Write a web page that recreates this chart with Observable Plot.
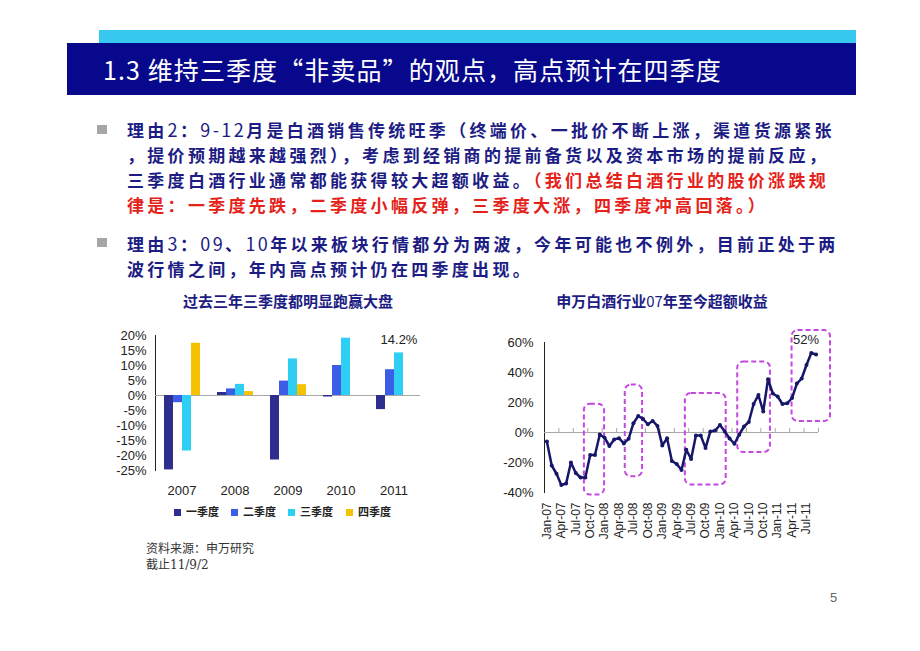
<!DOCTYPE html>
<html><head><meta charset="utf-8">
<script src="https://cdn.jsdelivr.net/npm/d3@7"></script>
<script src="https://cdn.jsdelivr.net/npm/@observablehq/plot@0.6"></script>
<style>
body{margin:0;background:#fff;width:920px;height:651px;position:relative;overflow:hidden;font-family:"Noto Sans CJK SC","Noto Sans",sans-serif;}
.abs{position:absolute;white-space:nowrap;}
.line{position:absolute;left:127px;font-size:17px;font-weight:700;color:#1c1c84;line-height:25px;letter-spacing:3.3px;white-space:nowrap;}
.lat{letter-spacing:2.4px;font-weight:400;font-size:18px;}
.red{color:#e52219;}
.bullet{position:absolute;left:97px;width:10px;height:9px;background:#a6a6a6;}
.ctitle{position:absolute;font-size:15px;font-weight:700;color:#1c1c84;white-space:nowrap;transform:translateX(-50%);}
.leg{position:absolute;top:504px;font-size:11px;font-weight:700;color:#222;white-space:nowrap;line-height:14px;}
.leg i{display:inline-block;width:7px;height:7px;margin-right:5px;vertical-align:0px;}
.chart{position:absolute;}
.chart svg [aria-label^="y-axis"] path,.chart svg [aria-label^="y-axis"] line{stroke:#9a9a9a;}
#right svg [aria-label^="x-axis"] text{font-size:12px;}
.foot{position:absolute;left:146px;font-size:12px;color:#333;font-family:"DejaVu Serif","Noto Sans CJK SC",serif;line-height:16px;white-space:nowrap;}
</style></head><body>

<div class="abs" style="left:99px;top:30px;width:757px;height:13px;background:#36c8ee"></div>
<div class="abs" style="left:67px;top:43px;width:789px;height:52px;background:#08088c"></div>
<div class="abs" style="left:103px;top:43px;height:52px;line-height:52px;color:#fff;font-size:25px;letter-spacing:1.1px;">1.3 维持三季度“非卖品”的观点，高点预计在四季度</div>

<div class="bullet" style="top:125px"></div>
<div class="line" style="top:117px">理由<span class="lat">2</span>：<span class="lat">9-12</span>月是白酒销售传统旺季（终端价、一批价不断上涨，渠道货源紧张</div>
<div class="line" style="top:142px">，提价预期越来越强烈），考虑到经销商的提前备货以及资本市场的提前反应，</div>
<div class="line" style="top:167px">三季度白酒行业通常都能获得较大超额收益。<span class="red">（我们总结白酒行业的股价涨跌规</span></div>
<div class="line red" style="top:192px">律是：一季度先跌，二季度小幅反弹，三季度大涨，四季度冲高回落。）</div>
<div class="bullet" style="top:238px"></div>
<div class="line" style="top:231px">理由<span class="lat">3</span>：<span class="lat">09</span>、<span class="lat">10</span>年以来板块行情都分为两波，今年可能也不例外，目前正处于两</div>
<div class="line" style="top:256px">波行情之间，年内高点预计仍在四季度出现。</div>

<div class="ctitle" style="left:288px;top:290px">过去三年三季度都明显跑赢大盘</div>
<div class="ctitle" style="left:662px;top:290px">申万白酒行业<span style="font-weight:400">07</span>年至今超额收益</div>

<div id="left" class="chart" style="left:100px;top:320px"></div>
<div id="legend"></div>
<div id="right" class="chart" style="left:490px;top:320px"></div>

<div class="foot" style="top:541px">资料来源：申万研究</div>
<div class="foot" style="top:557px">截止11/9/2</div>
<div class="abs" style="left:830px;top:590px;font-size:13px;color:#666;font-family:'Liberation Sans',Arial,sans-serif">5</div>

<script>
// ---------- left chart data ----------
const years = ["2007", "2008", "2009", "2010", "2011"];
const quarters = ["一季度", "二季度", "三季度", "四季度"];
const q1 = [-24.8, 1.0, -21.5, -0.5, -4.7];
const q2 = [-2.4, 2.2, 4.8, 10.0, 8.6];
const q3 = [-18.5, 3.7, 12.2, 19.1, 14.2];
const q4 = [17.4, 1.3, 3.6, null, null];
const barColors = ["#2e2e8e", "#3c5ee6", "#2ecff4", "#f5c200"];
const barTicks = [-25, -20, -15, -10, -5, 0, 5, 10, 15, 20];

// ---------- right chart data ----------
const monthLabels = d3.utcMonths(new Date(Date.UTC(2007, 0, 1)), new Date(Date.UTC(2011, 9, 1))).map(d3.utcFormat("%b-%y"));
const excess = [-6, -22, -27.5, -35, -34, -20, -27, -30, -30, -15, -15, -1.3,
  -3.5, -9, -4.6, -3.8, -7.3, -4.2, 6.2, 11, 9, 5.5, 7.7, 4.4,
  -8.6, -3.8, -19, -21, -25, -11.5, -17.7, -2, -2, -10.4, 0.7, 1.3,
  5, 0.7, -4, -7.5, -1.5, 4, 7, 19, 25, 14, 35.5, 26,
  24, 19, 19.5, 23, 32.6, 36, 45, 53, 52];
const lineTicks = [-40, -20, 0, 20, 40, 60];
const labelMonths = d3.range(0, 57, 3);
const boundaryMonths = d3.range(2.5, 57, 3);
// highlight boxes (month index range, value range)
const boxStart = [7.8, 16.3, 28.8, 39.7, 51];
const boxEnd = [12.0, 19.9, 37.3, 46.5, 59];
const boxTop = [18.9, 31.6, 26, 47, 68];
const boxBottom = [-41.7, -29.5, -35, -13.3, 7.3];

// ---------- left chart ----------
const barData = years.flatMap((y, i) => quarters.map((q, j) => ({year: y, q, value: [q1, q2, q3, q4][j][i]})))
  .filter(d => d.value != null);

const left = Plot.plot({
  width: 330, height: 180,
  marginLeft: 54, marginRight: 9, marginTop: 15, marginBottom: 30,
  style: {fontFamily: "'Liberation Sans', Arial, sans-serif", fontSize: "13px", color: "#222", background: "transparent"},
  facet: {data: barData, x: "year"},
  fx: {domain: years, padding: 0, label: null, tickSize: 0, tickPadding: 15},
  x: {domain: quarters, paddingInner: 0, paddingOuter: 0.71, axis: null},
  y: {domain: [-25, 20], ticks: barTicks, tickFormat: d => d + "%", label: null, tickSize: 0, tickPadding: 9, line: true},
  color: {domain: quarters, range: barColors},
  marks: [
    Plot.ruleY([0], {stroke: "#a8a8a8"}),
    Plot.barY(barData, {x: "q", y: "value", fill: "q"}),
    Plot.text(barData, {filter: d => d.year === "2011" && d.q === "三季度", x: "q", y: "value",
      text: d => d.value.toFixed(1) + "%", dy: -13, fill: "#222", fontSize: 13})
  ]
});
document.getElementById("left").appendChild(left);

// legend
const legX = [174, 231, 288, 346];
const legend = document.getElementById("legend");
quarters.forEach((q, i) => {
  const el = document.createElement("div");
  el.className = "leg";
  el.style.left = legX[i] + "px";
  el.innerHTML = `<i style="background:${barColors[i]}"></i>${q}`;
  legend.appendChild(el);
});

// ---------- right chart ----------
const boxes = boxStart.map((s, i) => ({x1: s, x2: boxEnd[i], y1: boxBottom[i], y2: boxTop[i]}));
const pts = excess.map((v, i) => ({i, v}));

const right = Plot.plot({
  width: 350, height: 232,
  marginLeft: 54, marginRight: 22, marginTop: 22, marginBottom: 60,
  style: {fontFamily: "'Liberation Sans', Arial, sans-serif", fontSize: "13px", color: "#222", background: "transparent", overflow: "visible"},
  x: {domain: [-0.5, 56.5], ticks: labelMonths, tickFormat: i => monthLabels[i], tickRotate: -90, tickSize: 0, tickPadding: 10, label: null},
  y: {domain: [-40, 60], ticks: lineTicks, tickFormat: d => d + "%", tickSize: 0, tickPadding: 11, label: null, line: true},
  marks: [
    Plot.ruleY([0], {stroke: "#a8a8a8"}),
    Plot.ruleX(boundaryMonths, {x: d => d, y1: 0, y2: 2.7, stroke: "#a8a8a8"}),
    Plot.rect(boxes, {x1: "x1", x2: "x2", y1: "y1", y2: "y2", fill: "none", stroke: "#c447e0", strokeWidth: 2, strokeDasharray: "5,3", rx: 6}),
    Plot.line(pts, {x: "i", y: "v", stroke: "#16166a", strokeWidth: 2.5}),
    Plot.dot(pts, {x: "i", y: "v", r: 2, fill: "#16166a"}),
    Plot.text(pts, {filter: d => d.i === pts.length - 1, x: "i", y: "v", text: d => d.v + "%", dx: -10, dy: -15, fill: "#222", fontSize: 13})
  ]
});
document.getElementById("right").appendChild(right);
</script>
</body></html>
